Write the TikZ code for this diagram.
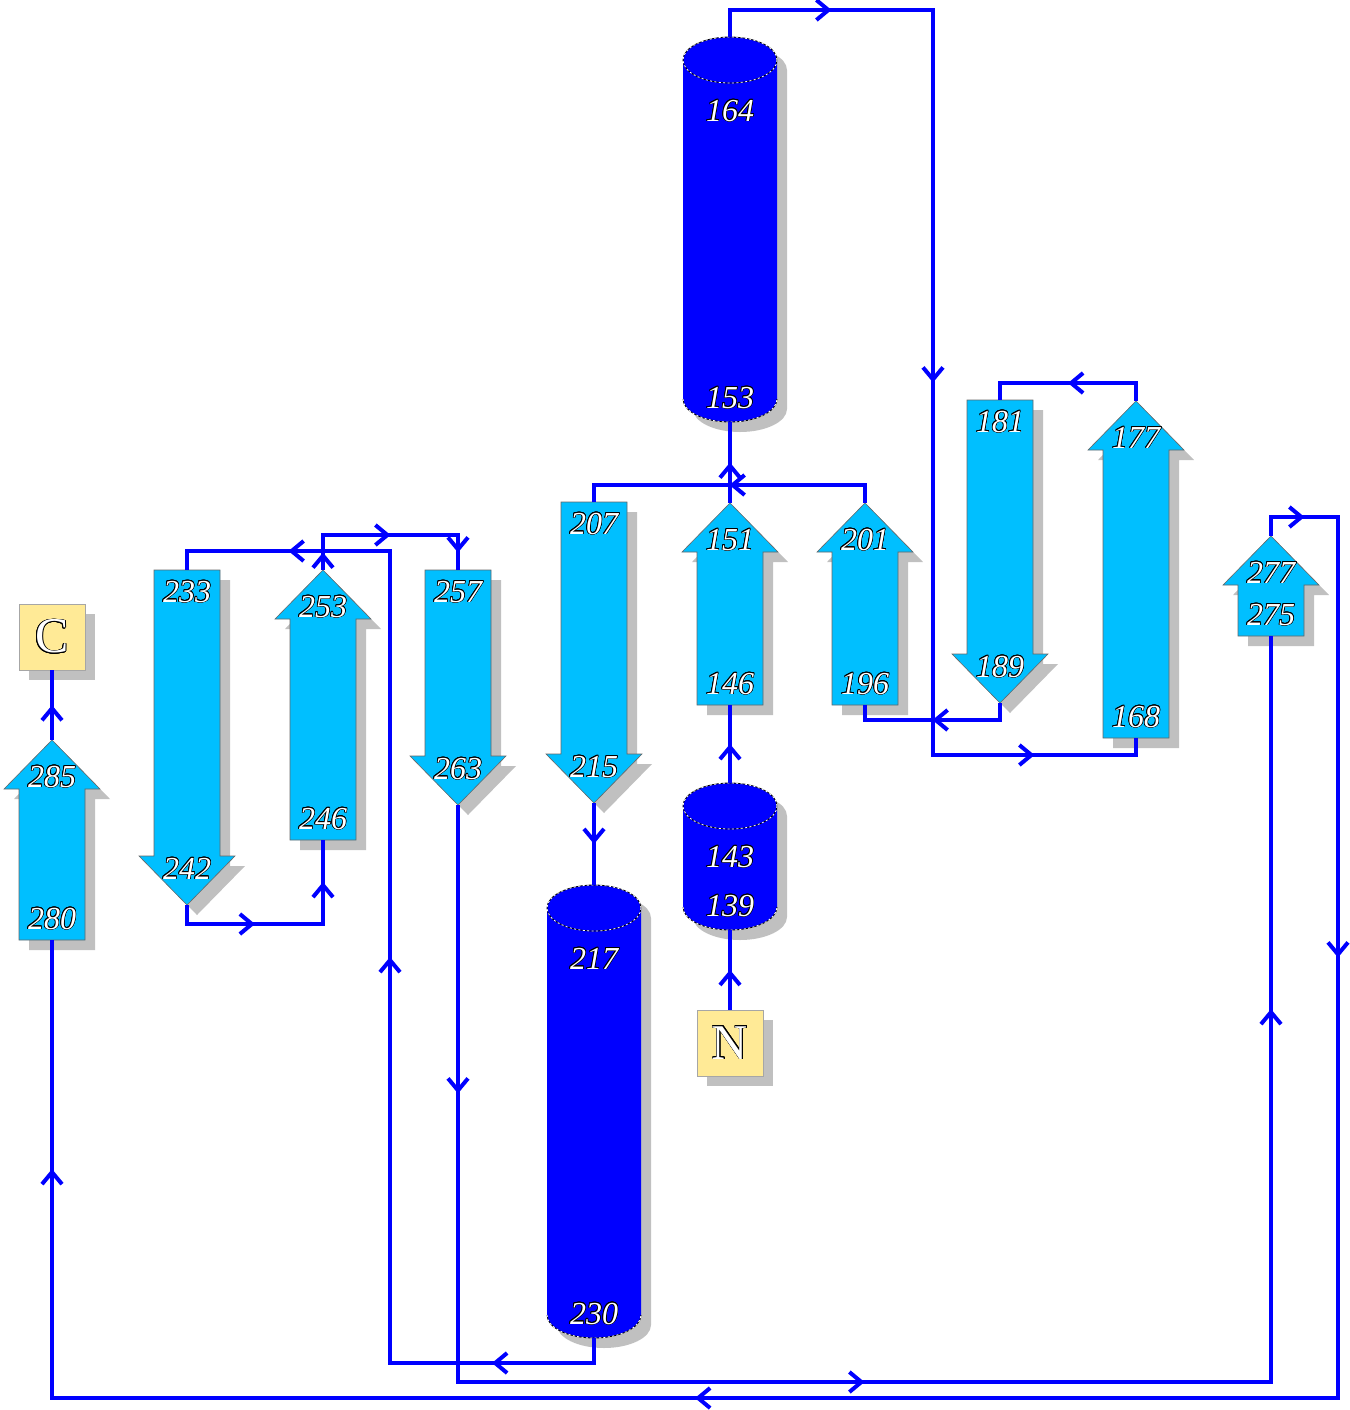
\documentclass[tikz,border=0pt]{standalone}
\usepackage{fontspec}
\setmainfont{Liberation Serif}
\usepackage{contour}
\contourlength{0.35pt}
\usetikzlibrary{arrows.meta,decorations.markings,shadows}

\definecolor{helixc}{RGB}{0,0,255}
\definecolor{strandc}{RGB}{0,191,255}
\definecolor{linkc}{RGB}{0,0,255}
\definecolor{shadec}{RGB}{192,192,192}
\definecolor{termc}{RGB}{255,234,150}

% up strand: name, x, tip, foot, tip label, foot label
\newcommand\upstrand[6]{%
  \path[dropsh,shift={(10,-10)}] (#2,-#3) -- ++(48,-49) -- ++(-15,0) |- ({#2-33},-#4) -- ++(0,{#4-#3-49}) -- ++(-15,0) -- cycle;
  \path[strandbody] (#2,-#3) -- ++(48,-49) -- ++(-15,0) |- ({#2-33},-#4) -- ++(0,{#4-#3-49}) -- ++(-15,0) -- cycle;
  \coordinate (#1-tip) at (#2,-#3);
  \coordinate (#1-foot) at (#2,-#4);
  \node[lbl] at (#2,{-#3-37}) {\contour{black}{#5}};
  \node[lbl] at (#2,{-#4+21}) {\contour{black}{#6}};
}
% down strand: name, x, top, tip, top label, tip label
\newcommand\downstrand[6]{%
  \path[dropsh,shift={(10,-10)}] (#2,-#4) -- ++(48,49) -- ++(-15,0) |- ({#2-33},-#3) -- ++(0,{#3-#4+49}) -- ++(-15,0) -- cycle;
  \path[strandbody] (#2,-#4) -- ++(48,49) -- ++(-15,0) |- ({#2-33},-#3) -- ++(0,{#3-#4+49}) -- ++(-15,0) -- cycle;
  \coordinate (#1-top) at (#2,-#3);
  \coordinate (#1-tip) at (#2,-#4);
  \node[lbl] at (#2,{-#3-22}) {\contour{black}{#5}};
  \node[lbl] at (#2,{-#4+36}) {\contour{black}{#6}};
}
% helix: name, x, top centre, bottom centre, top label, bottom label
\newcommand\helixcyl[6]{%
  \fill[dropsh,shift={(10,-10)}] ({#2-47},-#3) -- ({#2-47},-#4) arc[start angle=180,end angle=360,x radius=47,y radius=23] -- ({#2+47},-#3) arc[start angle=0,end angle=180,x radius=47,y radius=23] -- cycle;
  \fill[helixc] ({#2-47},-#3) -- ({#2-47},-#4) arc[start angle=180,end angle=360,x radius=47,y radius=23] -- ({#2+47},-#3) arc[start angle=0,end angle=180,x radius=47,y radius=23] -- cycle;
  \draw[rim] (#2,-#3) ellipse [x radius=47,y radius=23];
  \draw[rim] ({#2-47},-#4) arc[start angle=180,end angle=360,x radius=47,y radius=23];
  \coordinate (#1-top) at (#2,{-#3+23});
  \coordinate (#1-bot) at (#2,{-#4-23});
  \node[lbl] at (#2,{-#3-51}) {\contour{black}{#5}};
  \node[lbl] at (#2,{-#4+1}) {\contour{black}{#6}};
}

\tikzset{
  dropsh/.style={fill=shadec},
  strandbody/.style={fill=strandc,draw=black!60,line width=0.3pt},
  rim/.style={draw=black,line width=0.4pt,postaction={draw=white,line width=0.4pt,dash pattern=on 1pt off 1.2pt}},
  lbl/.style={text=white,inner sep=0pt,font=\fontsize{16}{16}\selectfont\itshape},
  term/.style={fill=termc,draw=black!35,line width=0.3pt,minimum size=33pt,inner sep=0pt,
    text=white,font=\fontsize{25}{25}\selectfont,
    drop shadow={shadow xshift=5pt,shadow yshift=-5pt,fill=shadec,opacity=1}},
  link/.style={draw=linkc,line width=2pt},
  mid/.style={color=linkc,line width=2pt,postaction={decorate,decoration={markings,
    mark=at position 0.5 with {\arrow{Straight Barb[length=6pt,width=10pt]}}}}}
}

\begin{document}
\begin{tikzpicture}[x=0.5pt,y=0.5pt]
\useasboundingbox (0,0) rectangle (1350,-1410);

% helices
\helixcyl{h164}{730}{60}{399}{164}{153}
\helixcyl{h143}{730}{806}{907}{143}{139}
\helixcyl{h217}{594}{908}{1315}{217}{230}

% strands
\upstrand{s280}{52}{740}{940}{285}{280}
\downstrand{s233}{187}{570}{905}{233}{242}
\upstrand{s246}{323}{570}{840}{253}{246}
\downstrand{s257}{458}{570}{805}{257}{263}
\downstrand{s207}{594}{502}{803}{207}{215}
\upstrand{s146}{730}{503}{705}{151}{146}
\upstrand{s196}{865}{503}{705}{201}{196}
\downstrand{s181}{1000}{400}{703}{181}{189}
\upstrand{s168}{1136}{401}{738}{177}{168}
\upstrand{s275}{1271}{536}{636}{277}{275}

% termini
\node[term] (cterm) at (52,-637) {\contour{black}{C}};
\node[term] (nterm) at (730,-1043) {\contour{black}{N}};

% corners
\coordinate (a1) at (730,-10);   \coordinate (a2) at (933,-10);
\coordinate (a3) at (933,-755);  \coordinate (a4) at (1136,-755);
\coordinate (b1) at (1136,-383); \coordinate (b2) at (1000,-383);
\coordinate (c1) at (1000,-720); \coordinate (c2) at (865,-720);
\coordinate (d1) at (865,-485);  \coordinate (d2) at (594,-485);
\coordinate (e1) at (594,-1363); \coordinate (e2) at (390,-1363);
\coordinate (e3) at (390,-551);  \coordinate (e4) at (187,-551);
\coordinate (f1) at (187,-924);  \coordinate (f2) at (323,-924);
\coordinate (g1) at (323,-535);  \coordinate (g2) at (458,-535);
\coordinate (i1) at (458,-1382); \coordinate (i2) at (1271,-1382);
\coordinate (j1) at (1271,-517); \coordinate (j2) at (1338,-517);
\coordinate (j3) at (1338,-1398); \coordinate (j4) at (52,-1398);

% connections
\draw[link,mid] (nterm.north) -- (h143-bot);
\draw[link,mid] (h143-top) -- (s146-foot);
\draw[link,mid] (s146-tip) -- (h164-bot);
\draw[link] (h164-top) -- (a1) -- (a2) -- (a3) -- (a4) -- (s168-foot);
\draw[link] (s168-tip) -- (b1) -- (b2) -- (s181-top);
\draw[link] (s181-tip) -- (c1) -- (c2) -- (s196-foot);
\draw[link] (s196-tip) -- (d1) -- (d2) -- (s207-top);
\draw[link,mid] (s207-tip) -- (h217-top);
\draw[link] (h217-bot) -- (e1) -- (e2) -- (e3) -- (e4) -- (s233-top);
\draw[link] (s233-tip) -- (f1) -- (f2) -- (s246-foot);
\draw[link] (s246-tip) -- (g1) -- (g2) -- (s257-top);
\draw[link] (s257-tip) -- (i1) -- (i2) -- (s275-foot);
\draw[link] (s275-tip) -- (j1) -- (j2) -- (j3) -- (j4) -- (s280-foot);
\draw[link,mid] (s280-tip) -- (cterm.south);

% direction marks
\foreach \p/\q in {a1/a2,a2/a3,a3/a4,b1/b2,c1/c2,d1/d2,e1/e2,e2/e3,e3/e4,f1/f2,f2/s246-foot,
  s246-tip/g1,g1/g2,g2/s257-top,s257-tip/i1,i1/i2,i2/s275-foot,j1/j2,j2/j3,j3/j4,j4/s280-foot}
  \path[mid] (\p) -- (\q);
\end{tikzpicture}
\end{document}
